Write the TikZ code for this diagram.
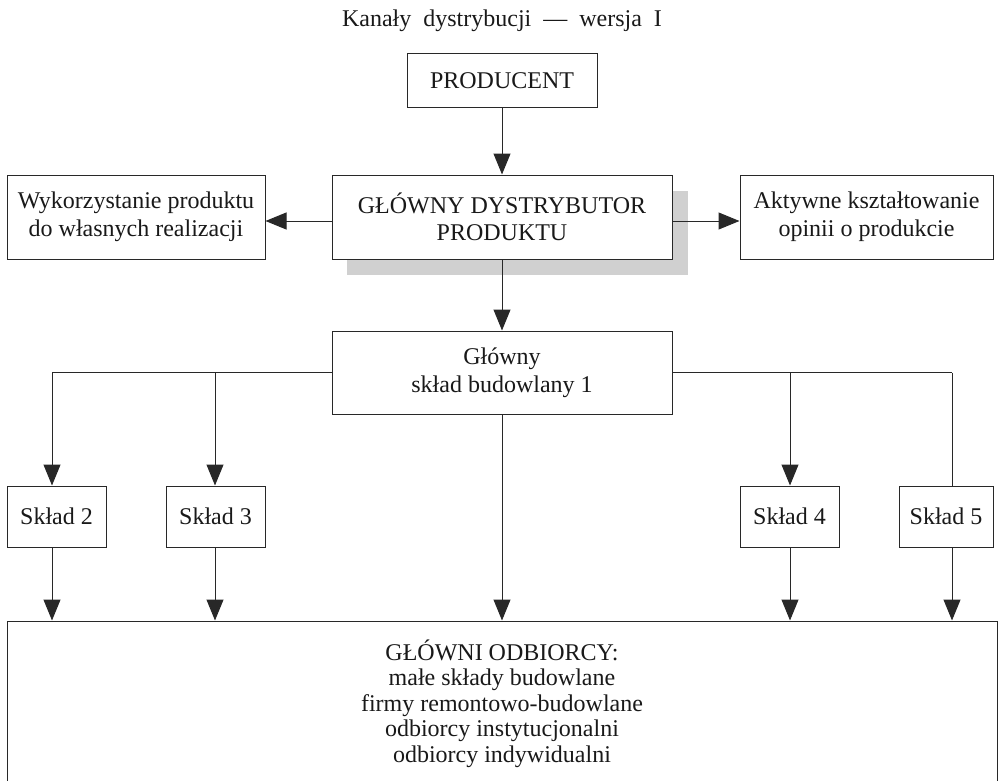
\documentclass[tikz,border=0pt]{standalone}
\usepackage{fontspec}
\setmainfont{Liberation Serif}
\usetikzlibrary{arrows.meta}
\definecolor{shadowgray}{RGB}{208,208,208}
\definecolor{linec}{RGB}{40,40,40}
\begin{document}
\begin{tikzpicture}[x=1pt,y=-1pt,
  box/.style={draw=linec, line width=1pt, fill=white, inner sep=0pt, align=center, text=black!90, font=\fontsize{24}{28}\selectfont},
  conn/.style={draw=linec, line width=1pt},
  arr/.style={conn, -{Triangle[length=21pt,width=17pt]}},
  txt/.style={font=\fontsize{24}{25.5}\selectfont, align=center, inner sep=0pt, text=black!90}]
\useasboundingbox (0,0) rectangle (998,781);
\begin{scope}
\clip (0,0) rectangle (998,781);
% title
\node[font=\fontsize{24}{28}\selectfont, inner sep=0pt, anchor=base, text=black!90] (title) at (502,27)
  {Kanały\hspace{0.5em}dystrybucji\hspace{0.5em}---\hspace{0.5em}wersja\hspace{0.5em}I};
% boxes
\node[box, minimum width=190pt, minimum height=54pt] (prod) at (502,81) {PRODUCENT};
\fill[shadowgray] (347,191) rectangle (688,275);
\node[box, minimum width=340pt, minimum height=84pt, font=\fontsize{24}{27}\selectfont] (dist) at (502,217) {GŁÓWNY DYSTRYBUTOR\\PRODUKTU};
\node[box, minimum width=258pt, minimum height=84pt] (left) at (136,217) {Wykorzystanie produktu\\do własnych realizacji};
\node[box, minimum width=253pt, minimum height=84pt] (right) at (866.5,217) {Aktywne kształtowanie\\opinii o produkcie};
\node[box, minimum width=340pt, minimum height=83pt] (gsk) at (502,372.5) {Główny\\skład budowlany 1};
\node[box, minimum width=99pt, minimum height=61pt] (s2) at (56.5,516.5) {Skład 2};
\node[box, minimum width=99pt, minimum height=61pt] (s3) at (215.5,516.5) {Skład 3};
\node[box, minimum width=99pt, minimum height=61pt] (s4) at (789.5,516.5) {Skład 4};
\node[box, minimum width=94pt, minimum height=61pt] (s5) at (946,516.5) {Skład 5};
\node[draw=linec, line width=1pt, minimum width=990pt, minimum height=180pt, inner sep=0pt] (odb) at (502,711) {};
\node[txt] (odbt) at (502,703.5) {GŁÓWNI ODBIORCY:\\małe składy budowlane\\firmy remontowo-budowlane\\odbiorcy instytucjonalni\\odbiorcy indywidualni};
% bus drop points
\coordinate (b2) at (52,372.5);
\coordinate (b3) at (215,372.5);
\coordinate (b4) at (790,372.5);
\coordinate (b5) at (952,372.5);
% connectors
\draw[arr] (prod.south) -- (dist.north);
\draw[arr] ([yshift=-4pt]dist.west) -- ([yshift=-4pt]left.east);
\draw[arr] ([yshift=-4pt]dist.east) -- ([yshift=-4pt]right.west);
\draw[arr] (dist.south) -- (gsk.north);
\draw[conn] (gsk.west) -- (b2);
\draw[conn] (gsk.east) -- (b5);
\draw[arr] (b2) -- (b2 |- s2.north);
\draw[arr] (b3) -- (b3 |- s3.north);
\draw[arr] (b4) -- (b4 |- s4.north);
\draw[conn] (b5) -- (b5 |- s5.north);
\draw[arr] (b2 |- s2.south) -- (b2 |- odb.north);
\draw[arr] (b3 |- s3.south) -- (b3 |- odb.north);
\draw[arr] (b4 |- s4.south) -- (b4 |- odb.north);
\draw[arr] (b5 |- s5.south) -- (b5 |- odb.north);
\draw[arr] (gsk.south) -- (gsk.south |- odb.north);
\end{scope}
\end{tikzpicture}
\end{document}
